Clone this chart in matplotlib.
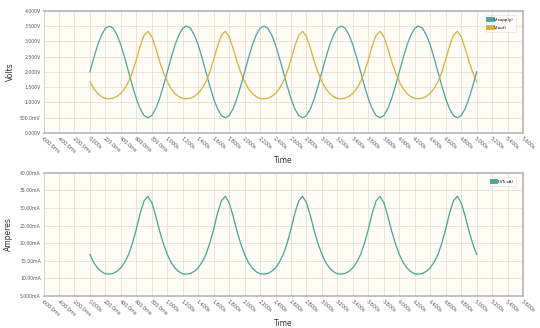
import numpy as np
import matplotlib.pyplot as plt

# time samples (s), one every 50 ms from 0 to 5 s
t = np.arange(101) * 0.05

# V(supply), volts
v_supply = [
    2.00, 2.46, 2.88, 3.21, 3.43, 3.50, 3.43, 3.21, 2.88, 2.46,
    2.00, 1.54, 1.12, 0.79, 0.57, 0.50, 0.57, 0.79, 1.12, 1.54,
    2.00, 2.46, 2.88, 3.21, 3.43, 3.50, 3.43, 3.21, 2.88, 2.46,
    2.00, 1.54, 1.12, 0.79, 0.57, 0.50, 0.57, 0.79, 1.12, 1.54,
    2.00, 2.46, 2.88, 3.21, 3.43, 3.50, 3.43, 3.21, 2.88, 2.46,
    2.00, 1.54, 1.12, 0.79, 0.57, 0.50, 0.57, 0.79, 1.12, 1.54,
    2.00, 2.46, 2.88, 3.21, 3.43, 3.50, 3.43, 3.21, 2.88, 2.46,
    2.00, 1.54, 1.12, 0.79, 0.57, 0.50, 0.57, 0.79, 1.12, 1.54,
    2.00, 2.46, 2.88, 3.21, 3.43, 3.50, 3.43, 3.21, 2.88, 2.46,
    2.00, 1.54, 1.12, 0.79, 0.57, 0.50, 0.57, 0.79, 1.12, 1.54,
    2.00,
]

# V(out), volts
v_out = [
    1.68, 1.45, 1.29, 1.19, 1.13, 1.12, 1.14, 1.20, 1.30, 1.46,
    1.68, 2.00, 2.40, 2.85, 3.20, 3.33, 3.15, 2.78, 2.35, 1.98,
    1.68, 1.45, 1.29, 1.19, 1.13, 1.12, 1.14, 1.20, 1.30, 1.46,
    1.68, 2.00, 2.40, 2.85, 3.20, 3.33, 3.15, 2.78, 2.35, 1.98,
    1.68, 1.45, 1.29, 1.19, 1.13, 1.12, 1.14, 1.20, 1.30, 1.46,
    1.68, 2.00, 2.40, 2.85, 3.20, 3.33, 3.15, 2.78, 2.35, 1.98,
    1.68, 1.45, 1.29, 1.19, 1.13, 1.12, 1.14, 1.20, 1.30, 1.46,
    1.68, 2.00, 2.40, 2.85, 3.20, 3.33, 3.15, 2.78, 2.35, 1.98,
    1.68, 1.45, 1.29, 1.19, 1.13, 1.12, 1.14, 1.20, 1.30, 1.46,
    1.68, 2.00, 2.40, 2.85, 3.20, 3.33, 3.15, 2.78, 2.35, 1.98,
    1.68,
]

# current, mA
i_ma = [
    16.8, 14.5, 12.9, 11.9, 11.3, 11.2, 11.4, 12.0, 13.0, 14.6,
    16.8, 20.0, 24.0, 28.5, 32.0, 33.3, 31.5, 27.8, 23.5, 19.8,
    16.8, 14.5, 12.9, 11.9, 11.3, 11.2, 11.4, 12.0, 13.0, 14.6,
    16.8, 20.0, 24.0, 28.5, 32.0, 33.3, 31.5, 27.8, 23.5, 19.8,
    16.8, 14.5, 12.9, 11.9, 11.3, 11.2, 11.4, 12.0, 13.0, 14.6,
    16.8, 20.0, 24.0, 28.5, 32.0, 33.3, 31.5, 27.8, 23.5, 19.8,
    16.8, 14.5, 12.9, 11.9, 11.3, 11.2, 11.4, 12.0, 13.0, 14.6,
    16.8, 20.0, 24.0, 28.5, 32.0, 33.3, 31.5, 27.8, 23.5, 19.8,
    16.8, 14.5, 12.9, 11.9, 11.3, 11.2, 11.4, 12.0, 13.0, 14.6,
    16.8, 20.0, 24.0, 28.5, 32.0, 33.3, 31.5, 27.8, 23.5, 19.8,
    16.8,
]

x_ticks = np.arange(-3, 29) * 0.2
x_labels = ['-600.0ms', '-400.0ms', '-200.0ms', '0.000s', '200.0ms', '400.0ms',
            '600.0ms', '800.0ms'] + ['%.3fs' % (k * 0.2) for k in range(5, 29)]
v_ticks = np.arange(9) * 0.5
v_labels = ['0.000V', '500.0mV'] + ['%.3fV' % (k * 0.5) for k in range(2, 9)]
i_ticks = np.arange(1, 9) * 5
i_labels = ['5.000mA'] + ['%.2fmA' % (k * 5) for k in range(2, 9)]

c_supply = '#4aa3a6'
c_out = '#d6b12e'
c_cur = '#42a596'

fig = plt.figure(figsize=(5.4, 3.28), dpi=100)
ax1 = fig.add_axes([0.0806, 0.5945, 0.888, 0.3725])
ax2 = fig.add_axes([0.0806, 0.0976, 0.888, 0.3759])


def style(ax, yticks, ylabels, ylim):
    ax.set_facecolor('#fffdf6')
    ax.set_xlim(-0.6, 5.6)
    ax.set_ylim(*ylim)
    ax.set_xticks(x_ticks)
    ax.set_xticklabels(x_labels, rotation=-40, ha='left', va='top',
                       rotation_mode='anchor', fontsize=3.5, color='#555555')
    ax.set_yticks(yticks)
    ax.set_yticklabels(ylabels, fontsize=3.3, color='#555555')
    ax.tick_params(length=0, pad=2)
    ax.grid(True, color='#e4e1d6', linewidth=0.6)
    ax.set_axisbelow(True)
    for s in ['top', 'right', 'bottom']:
        ax.spines[s].set_color('#b5b5b5')
        ax.spines[s].set_linewidth(1.2)
    ax.spines['left'].set_color('#d0d0d0')
    ax.spines['left'].set_linewidth(0.6)
    ax.set_xlabel('Time', fontsize=5.5, color='#333333', labelpad=1)


ax1.plot(t, v_supply, color=c_supply, linewidth=0.9, label='V(supply)')
ax1.plot(t, v_out, color=c_out, linewidth=0.9, label='V(out)')
style(ax1, v_ticks, v_labels, (0, 4))

ax2.plot(t, i_ma, color=c_cur, linewidth=0.9, label='I(V5.sA)')
style(ax2, i_ticks, i_labels, (5, 40))

fig.text(10 / 540, 1 - 72 / 328, 'Volts', rotation=90, fontsize=5.5,
         color='#333333', ha='center', va='center')
fig.text(8 / 540, 1 - 234 / 328, 'Amperes', rotation=90, fontsize=5.5,
         color='#333333', ha='center', va='center')

for ax in (ax1, ax2):
    leg = ax.legend(loc='upper right', fontsize=3.0, handlelength=0.8,
                    handleheight=0.8, frameon=True, fancybox=False,
                    borderpad=0.6, labelspacing=0.9, handletextpad=0.5,
                    bbox_to_anchor=(0.99, 0.98))
    leg.get_frame().set_edgecolor('#e0e0e0')
    leg.get_frame().set_linewidth(0.5)
    for h in leg.legend_handles:
        h.set_linewidth(3.5)

fig.savefig('out.png', dpi=100, facecolor='white')
